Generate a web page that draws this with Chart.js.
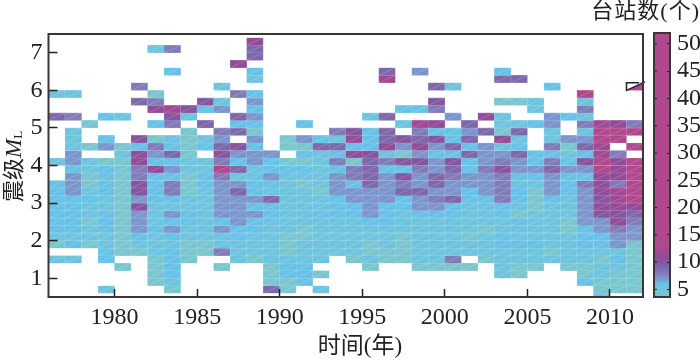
<!DOCTYPE html>
<html>
<head>
<meta charset="utf-8">
<script src="https://cdn.jsdelivr.net/npm/chart.js@4"></script>
<style>
  body { margin: 0; background: #fff; }
  #mainChart { position: absolute; left: 0; top: 0; }
  #barChart { position: absolute; left: 640px; top: 0; }
</style>
</head>
<body>
<canvas id="mainChart" width="700" height="361"></canvas>
<canvas id="barChart" width="60" height="361"></canvas>
<script>
// tick labels
const yearTicks = [1980, 1985, 1990, 1995, 2000, 2005, 2010];
const magnitudeTicks = [1, 2, 3, 4, 5, 6, 7];
const stationTicks = [5, 10, 15, 20, 25, 30, 35, 40, 45, 50];

// lower edge of each magnitude bin (bin height 0.2)
const magnitudeBins = [0.4, 0.6, 0.8, 1.0, 1.2, 1.4, 1.6, 1.8, 2.0, 2.2, 2.4, 2.6, 2.8, 3.0, 3.2, 3.4, 3.6, 3.8,
  4.0, 4.2, 4.4, 4.6, 4.8, 5.0, 5.2, 5.4, 5.6, 5.8, 6.0, 6.2, 6.4, 6.6, 6.8, 7.0, 7.2];

// station count per magnitude bin, one list per year, 0 = no cell
const y1976 = [0,0,0,0,0,5,0,4,5,6,6,6,6,6,6,6,0,0,5,0,0,0,0,0,9,0,0,5];
const y1977 = [0,0,0,0,0,5,0,6,5,6,6,6,6,6,7,7,7,6,7,7,5,5,5,0,8,0,0,5];
const y1978 = [0,0,0,0,0,0,0,4,5,5,4,5,5,6,5,4,4,5,5,0,4,0,0,4];
const y1979 = [0,5,0,0,0,6,6,5,5,6,6,6,5,5,6,6,6,6,4,0,7,6,0,0,6];
const y1980 = [0,0,0,0,4,0,4,4,4,4,4,4,4,4,4,4,4,4,4,5,4,0,0,0,5];
const y1981 = [0,0,0,0,0,0,4,5,6,7,7,7,10,7,10,10,8,8,11,11,6,10,0,0,0,0,9,0,8];
const y1982 = [0,0,4,4,4,4,5,5,5,6,5,5,5,6,6,6,6,11,6,7,8,4,0,6,0,11,8,4,0,0,0,0,0,5];
const y1983 = [0,4,5,6,6,6,6,5,6,7,6,7,5,6,8,8,6,7,6,9,6,5,0,8,10,12,0,0,0,0,6,0,0,8];
const y1984 = [0,0,0,0,0,4,4,4,5,5,6,6,5,5,4,4,4,5,5,4,4,4,4,0,5,10];
const y1985 = [0,0,0,0,0,0,4,4,5,5,5,5,5,5,5,6,6,5,5,0,6,5,0,9,0,6,10];
const y1986 = [0,0,0,0,4,0,8,5,5,7,6,7,7,7,7,7,8,14,8,10,9,7,8,0,0,7,5,0,5];
const y1987 = [0,0,0,0,0,5,5,5,6,6,7,7,7,7,9,7,5,9,6,7,10,0,9,6,9,0,0,8,0,0,0,11];
const y1988 = [0,0,0,0,0,4,5,5,5,6,6,7,6,7,6,6,6,5,7,7,6,7,4,6,7,6,7,6,0,5,6,0,9,9,11];
const y1989 = [0,9,4,4,4,5,5,5,5,5,5,6,6,9,5,6,7,6,6,7];
const y1990 = [0,4,4,6,6,5,4,4,4,5,5,5,5,5,5,5,5,6,4,0,4,4];
const y1991 = [0,0,6,6,6,5,5,5,4,4,5,5,5,5,5,4,5,6,4,6,4,7,0,6];
const y1992 = [0,5,0,4,0,5,5,5,5,5,5,6,5,5,4,5,5,5,5,5,9,6];
const y1993 = [0,0,0,0,0,0,5,5,5,5,5,6,6,6,7,7,7,6,8,6,9,5,8];
const y1994 = [0,0,0,0,0,4,5,5,5,5,5,6,6,7,7,6,8,8,4,11,6,11,10];
const y1995 = [0,0,0,0,4,5,4,4,5,5,6,7,7,7,7,9,9,9,9,10,6,6,6,0,5];
const y1996 = [0,0,0,0,0,4,4,5,5,5,6,6,6,7,7,7,7,6,8,5,11,9,9,0,9,0,0,0,0,12,9];
const y1997 = [0,0,0,0,0,4,4,4,4,5,5,5,6,6,9,8,10,6,10,4,7,10,0,5,0,6];
const y1998 = [0,0,0,0,4,5,5,5,5,5,5,6,7,7,9,7,7,8,10,7,11,9,8,12,0,6,0,0,0,0,7];
const y1999 = [0,0,0,0,4,5,5,5,5,5,5,6,7,8,7,9,9,7,7,6,7,10,6,11,0,8,10,0,9];
const y2000 = [0,0,0,0,4,8,5,5,5,5,5,6,6,9,7,7,8,9,10,6,9,6,6,0,7,0,0,0,5];
const y2001 = [0,0,0,0,4,0,5,5,4,5,5,5,5,6,6,7,7,6,6,9,6,9,7,9];
const y2002 = [0,0,0,0,0,4,5,5,5,4,5,5,5,6,7,7,7,8,7,7,7,0,9,0,11];
const y2003 = [0,0,0,5,5,5,5,6,6,5,5,6,6,8,8,8,8,10,8,7,5,11,4,5,5,0,4,0,0,9,6];
const y2004 = [0,0,0,4,4,5,5,6,5,5,6,4,5,6,6,6,6,7,7,9,6,5,9,5,0,0,4,0,0,9];
const y2005 = [0,0,0,0,4,5,5,6,5,5,5,5,4,4,4,5,6,7,6,6,0,0,0,6,0,5,5];
const y2006 = [0,0,0,0,0,5,4,5,5,5,5,5,5,6,7,7,7,9,8,6,8,5,5,7,7,0,0,0,6];
const y2007 = [0,0,0,0,4,5,5,5,5,4,4,5,5,5,6,6,6,7,6,5,4,7,0,0,6];
const y2008 = [0,0,6,4,4,5,5,6,6,6,7,7,7,7,7,8,6,7,10,6,9,7,5,8,5,8,5,14];
const y2009 = [5,4,4,5,5,4,5,6,6,7,7,10,11,10,11,11,11,15,15,12,12,13,14,12];
const y2010 = [0,4,4,4,5,6,5,7,7,8,11,10,11,12,12,8,11,11,11,8,0,13,18,11];
const y2011 = [0,4,4,4,4,4,4,4,7,7,8,9,11,13,13,13,15,18,18,0,18,0,18,8,0,0,0,0,40];

const startYears = [1976, 1977, 1978, 1979, 1980, 1981, 1982, 1983, 1984, 1985, 1986, 1987, 1988, 1989, 1990, 1991, 1992, 1993,
  1994, 1995, 1996, 1997, 1998, 1999, 2000, 2001, 2002, 2003, 2004, 2005, 2006, 2007, 2008, 2009, 2010, 2011];
const stationColumns = [y1976, y1977, y1978, y1979, y1980, y1981, y1982, y1983, y1984, y1985, y1986, y1987, y1988, y1989, y1990, y1991, y1992, y1993,
  y1994, y1995, y1996, y1997, y1998, y1999, y2000, y2001, y2002, y2003, y2004, y2005, y2006, y2007, y2008, y2009, y2010, y2011];

// colour scale
const colorValues = [3.6, 4, 5, 6, 7, 8, 9, 10, 11, 13, 52];
const colorRgb = [[126, 198, 198], [122, 198, 206], [110, 196, 222], [104, 194, 232], [122, 150, 204], [128, 124, 186], [126, 104, 172], [132, 86, 160], [146, 76, 152], [176, 72, 142], [176, 72, 142]];

const SERIF = '"Liberation Serif", "Noto Sans CJK SC", serif';
const LINE = '#3a3633';

function cellRgb(n) {
  for (let i = 1; i < colorValues.length; i++) {
    if (n <= colorValues[i]) {
      const t = (n - colorValues[i - 1]) / (colorValues[i] - colorValues[i - 1]);
      return colorRgb[i].map((c, k) => Math.round(colorRgb[i - 1][k] + (c - colorRgb[i - 1][k]) * t));
    }
  }
  return colorRgb[colorRgb.length - 1];
}

function buildCells() {
  const cells = [];
  stationColumns.forEach((column, c) => {
    column.forEach((n, r) => {
      if (n > 0) {
        cells.push({ x: startYears[c] + 0.5, y: [magnitudeBins[r], magnitudeBins[r] + 0.2], n: n });
      }
    });
  });
  return cells;
}

// diagonal seams of the cells, frame, marker and mixed-font titles
const mainDecor = {
  id: 'mainDecor',
  afterDatasetsDraw(chart) {
    const ctx = chart.ctx;
    const area = chart.chartArea;
    ctx.save();
    ctx.beginPath();
    ctx.rect(area.left, area.top, area.width, area.height);
    ctx.clip();
    ctx.strokeStyle = 'rgba(255,255,255,0.22)';
    ctx.lineWidth = 0.8;
    chart.getDatasetMeta(0).data.forEach(bar => {
      const p = bar.getProps(['x', 'y', 'base', 'width'], true);
      ctx.beginPath();
      ctx.moveTo(p.x - p.width / 2, p.base);
      ctx.lineTo(p.x + p.width / 2, p.y);
      ctx.stroke();
    });
    ctx.restore();
  },
  afterDraw(chart) {
    const ctx = chart.ctx;
    const area = chart.chartArea;
    const xs = chart.scales.x;
    const ys = chart.scales.y;
    ctx.save();

    // marker on the 2011 cell
    const x0 = xs.getPixelForValue(2011);
    const x1 = xs.getPixelForValue(2012);
    const y0 = ys.getPixelForValue(6.0);
    const y1 = ys.getPixelForValue(6.2);
    ctx.fillStyle = '#fff';
    ctx.beginPath();
    ctx.moveTo(x0, y0);
    ctx.lineTo(x0, y1);
    ctx.lineTo(x1, y1);
    ctx.closePath();
    ctx.fill();
    ctx.strokeStyle = '#222';
    ctx.lineWidth = 1.5;
    ctx.beginPath();
    ctx.moveTo(x1 - 4, y1);
    ctx.lineTo(x0, y1);
    ctx.lineTo(x0, y0);
    ctx.lineTo(x1 + 2, y1 - 1);
    ctx.stroke();

    // frame
    ctx.strokeStyle = LINE;
    ctx.lineWidth = 2;
    ctx.strokeRect(area.left, area.top, area.width, area.height);

    // x title and colour bar title
    ctx.fillStyle = '#222';
    ctx.textBaseline = 'middle';
    ctx.textAlign = 'center';
    ctx.font = '23px ' + SERIF;
    ctx.fillText('时间(年)', 360, 347);
    ctx.textAlign = 'right';
    ctx.font = '22px ' + SERIF;
    ctx.letterSpacing = '1px';
    ctx.fillText('台站数(个)', 700, 12);
    ctx.letterSpacing = '0px';

    // y title: 震级 ML
    ctx.translate(21, 202);
    ctx.rotate(-Math.PI / 2);
    ctx.textAlign = 'left';
    ctx.textBaseline = 'alphabetic';
    ctx.fillText('震级', 0, 0);
    let pos = ctx.measureText('震级').width;
    ctx.font = 'italic 23px "Liberation Serif", serif';
    ctx.fillText('M', pos, 0);
    pos += ctx.measureText('M').width;
    ctx.font = '13px "Liberation Serif", serif';
    ctx.fillText('L', pos, 1);
    ctx.restore();
  }
};

const mainChart = new Chart(document.getElementById('mainChart'), {
  type: 'bar',
  data: {
    datasets: [{
      data: buildCells(),
      barPercentage: 1,
      categoryPercentage: 1,
      borderWidth: 0.6,
      borderSkipped: false,
      backgroundColor: c => 'rgb(' + cellRgb(c.raw.n).join(',') + ')',
      borderColor: c => 'rgb(' + cellRgb(c.raw.n).map(v => Math.round(v + (255 - v) * 0.25)).join(',') + ')'
    }]
  },
  options: {
    responsive: false,
    animation: false,
    events: [],
    layout: { padding: { left: 0, right: 57, top: 34, bottom: 0 } },
    plugins: { legend: { display: false }, tooltip: { enabled: false } },
    scales: {
      x: {
        type: 'linear',
        offset: false,
        min: 1976,
        max: 2012,
        afterBuildTicks: s => { s.ticks = yearTicks.map(v => ({ value: v })); },
        afterFit: s => { s.height = 64; },
        grid: { drawOnChartArea: false, offset: false, tickLength: -8, tickColor: '#222', tickWidth: 1.5, z: 1 },
        border: { display: false },
        ticks: { padding: 14, color: '#222', maxRotation: 0, autoSkip: false, callback: v => String(v), font: { family: SERIF, size: 24 } }
      },
      y: {
        type: 'linear',
        min: 0.5,
        max: 7.5,
        afterBuildTicks: s => { s.ticks = magnitudeTicks.map(v => ({ value: v })); },
        afterFit: s => { s.width = 48.5; },
        grid: { drawOnChartArea: false, tickLength: -9, tickColor: '#222', tickWidth: 1.5, z: 1 },
        border: { display: false },
        ticks: { padding: 15, color: '#222', callback: v => String(v), font: { family: SERIF, size: 24 } }
      }
    }
  },
  plugins: [mainDecor]
});

// colour bar frame and its left tick marks
const barDecor = {
  id: 'barDecor',
  afterDraw(chart) {
    const ctx = chart.ctx;
    const area = chart.chartArea;
    const ys = chart.scales.y;
    ctx.save();
    ctx.strokeStyle = '#222';
    ctx.lineWidth = 1;
    stationTicks.forEach(v => {
      const y = ys.getPixelForValue(v);
      ctx.beginPath();
      ctx.moveTo(area.left, y);
      ctx.lineTo(area.left + 3, y);
      ctx.stroke();
    });
    ctx.strokeStyle = LINE;
    ctx.lineWidth = 2;
    ctx.strokeRect(area.left, area.top, area.width, area.height);
    ctx.restore();
  }
};

const barChart = new Chart(document.getElementById('barChart'), {
  type: 'bar',
  data: {
    labels: ['台站数'],
    datasets: [{
      data: [[colorValues[0], colorValues[colorValues.length - 1]]],
      barPercentage: 1,
      categoryPercentage: 1,
      backgroundColor: c => {
        const ys = c.chart.scales.y;
        const lo = colorValues[0];
        const hi = colorValues[colorValues.length - 1];
        if (!ys || !c.chart.chartArea) return '#b0488e';
        const g = c.chart.ctx.createLinearGradient(0, ys.getPixelForValue(lo), 0, ys.getPixelForValue(hi));
        colorValues.forEach((v, i) => g.addColorStop((v - lo) / (hi - lo), 'rgb(' + colorRgb[i].join(',') + ')'));
        return g;
      }
    }]
  },
  options: {
    responsive: false,
    animation: false,
    events: [],
    layout: { padding: { left: 14, right: 0, top: 33, bottom: 64 } },
    plugins: { legend: { display: false }, tooltip: { enabled: false } },
    scales: {
      x: { display: false },
      y: {
        position: 'right',
        min: colorValues[0],
        max: colorValues[colorValues.length - 1],
        afterBuildTicks: s => { s.ticks = stationTicks.map(v => ({ value: v })); },
        afterFit: s => { s.width = 30; },
        grid: { drawOnChartArea: false, tickLength: -3, tickColor: '#222', z: 1 },
        border: { display: false },
        ticks: { padding: 10, color: '#222', autoSkip: false, callback: v => String(v), font: { family: SERIF, size: 24 } }
      }
    }
  },
  plugins: [barDecor]
});
</script>
</body>
</html>
